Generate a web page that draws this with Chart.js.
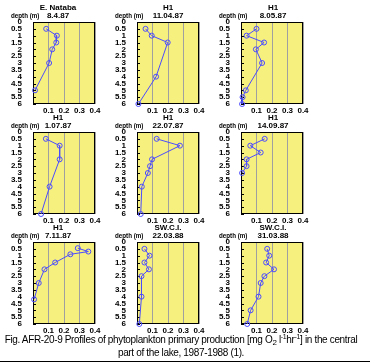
<!DOCTYPE html>
<html>
<head>
<meta charset="utf-8">
<script src="https://cdn.jsdelivr.net/npm/chart.js@4.4.0/dist/chart.umd.min.js"></script>
<style>
  body { margin: 0; background: #fff; width: 370px; height: 362px; position: relative; overflow: hidden; }
  .panel { position: absolute; }
  #caption {
    position: absolute; left: 0; top: 333px; width: 362px; text-align: center;
    font-family: "Liberation Sans", Arial, sans-serif; font-size: 10px; line-height: 13px; color: #000;
    letter-spacing: -0.35px;
  }
  #rule { position: absolute; left: 0; top: 361px; width: 370px; height: 1px; background: #000; }
</style>
</head>
<body>
<div id="grid"></div>
<div id="caption">Fig. AFR-20-9 Profiles of phytoplankton primary production [mg O<sub style="font-size:8px;vertical-align:-2px;line-height:0">2</sub> l<sup style="font-size:7px;vertical-align:4px;line-height:0">-1</sup>hr<sup style="font-size:7px;vertical-align:4px;line-height:0">-1</sup>] in the central<br>part of the lake, 1987-1988 (1).</div>
<div id="rule"></div>
<script>
// station / date of each panel (row by row)
const stations = ["E. Nataba", "H1", "H1", "H1", "H1", "H1", "H1", "SW.C.I.", "SW.C.I."];
const dates = ["8.4.87", "11.04.87", "8.05.87", "1.07.87", "22.07.87", "14.09.87", "7.11.87", "22.03.88", "31.03.88"];

// depth (m) and production (mg O2 l-1 hr-1) for each profile
const depth1 = [0.5, 1, 1.5, 2, 3, 5];
const prod1 = [0.085, 0.154, 0.15, 0.124, 0.104, 0.013];
const depth2 = [0.5, 1, 1.5, 4, 6];
const prod2 = [0.055, 0.095, 0.198, 0.123, 0.009];
const depth3 = [0.5, 1, 1.5, 2, 3, 5, 5.5, 6];
const prod3 = [0.1, 0.036, 0.149, 0.096, 0.136, 0.031, 0.01, 0.007];
const depth4 = [0.5, 1, 2, 4, 6];
const prod4 = [0.083, 0.172, 0.172, 0.107, 0.052];
const depth5 = [0.5, 1, 2, 2.5, 3, 4, 6];
const prod5 = [0.127, 0.277, 0.097, 0.084, 0.07, 0.031, 0.024];
const depth6 = [0.5, 1, 1.5, 2, 2.5, 3];
const prod6 = [0.153, 0.06, 0.127, 0.036, 0.036, 0.007];
const depth7 = [0.45, 0.7, 0.9, 1.5, 2, 3, 4.2];
const prod7 = [0.289, 0.357, 0.241, 0.143, 0.074, 0.037, 0.007];
const depth8 = [0.5, 1, 1.5, 2, 2.5, 4, 6];
const prod8 = [0.048, 0.081, 0.048, 0.077, 0.029, 0.029, 0.015];
const depth9 = [0.5, 1, 1.5, 2, 2.5, 3, 4, 5, 6];
const prod9 = [0.169, 0.182, 0.162, 0.213, 0.151, 0.127, 0.113, 0.062, 0.04];

// axis ticks
const depthTicks = [0, 0.5, 1, 1.5, 2, 2.5, 3, 3.5, 4, 4.5, 5, 5.5, 6];
const depthTickLabels = ["0", "0.5", "1", "1.5", "2", "2.5", "3", "3.5", "4", "4.5", "5", "5.5", "6"];
const prodTicks = [0, 0.1, 0.2, 0.3, 0.4];
const prodTickLabels = ["", "0.1", "0.2", "0.3", "0.4"];

const depths = [depth1, depth2, depth3, depth4, depth5, depth6, depth7, depth8, depth9];
const prods = [prod1, prod2, prod3, prod4, prod5, prod6, prod7, prod8, prod9];

const boldFont = { family: "Liberation Sans", size: 8, weight: "bold" };
const blue = "#4c4cff";
// horizontal shift of the panel titles per column
const titleShift = [-6, 0, 1];

const panelDecor = {
    id: "panelDecor",
    beforeDraw(chart) {
        const a = chart.chartArea, ctx = chart.ctx;
        ctx.save();
        ctx.fillStyle = "#f6f07e";
        ctx.fillRect(a.left, a.top, a.right - a.left, a.bottom - a.top);
        ctx.restore();
    },
    beforeDatasetsDraw(chart) {
        const a = chart.chartArea, ctx = chart.ctx;
        const y = chart.scales.y;
        const opts = chart.options.plugins.panelDecor;
        ctx.save();
        ctx.strokeStyle = "#000";
        ctx.lineWidth = 1;
        ctx.strokeRect(Math.round(a.left) + 0.5, Math.round(a.top) + 0.5, Math.round(a.right - a.left) - 1, Math.round(a.bottom - a.top) - 1);
        // small inner tick marks on the depth axis
        depthTicks.forEach(function(d) {
            const py = Math.round(y.getPixelForValue(d)) + 0.5;
            ctx.beginPath();
            ctx.moveTo(a.left, py);
            ctx.lineTo(a.left + 3, py);
            ctx.stroke();
        });
        // titles
        const cx = (a.left + a.right) / 2 + opts.shift;
        ctx.fillStyle = "#000";
        ctx.font = "bold 8px 'Liberation Sans'";
        ctx.textAlign = "center";
        ctx.textBaseline = "middle";
        ctx.fillText(opts.station, cx, 8);
        ctx.fillText(opts.date, cx, 16);
        // y axis caption, squeezed like the narrow original font
        ctx.translate(11, 16);
        ctx.scale(0.78, 1);
        ctx.textAlign = "left";
        ctx.fillText("depth (m)", 0, 0);
        ctx.restore();
    }
};

document.addEventListener("DOMContentLoaded", function() {
    const grid = document.getElementById("grid");

    for (let i = 0; i < 9; i++) {
        const col = i % 3, row = Math.floor(i / 3);
        const canvas = document.createElement("canvas");
        canvas.className = "panel";
        canvas.width = 104;
        canvas.height = 114;
        canvas.style.left = (col * 104) + "px";
        canvas.style.top = (row * 110) + "px";
        grid.appendChild(canvas);

        const points = depths[i].map(function(d, k) {
            return { x: prods[i][k], y: d };
        });

        new Chart(canvas.getContext("2d"), {
            type: "scatter",
            data: {
                datasets: [{
                    data: points,
                    showLine: true,
                    borderColor: blue,
                    borderWidth: 1,
                    pointRadius: 2.5,
                    pointBorderWidth: 1,
                    pointBorderColor: blue,
                    pointBackgroundColor: "rgba(0,0,0,0)",
                    clip: 4
                }]
            },
            options: {
                responsive: false,
                animation: false,
                layout: { padding: { top: 22, right: 9, left: 0, bottom: 0 } },
                plugins: {
                    legend: { display: false },
                    tooltip: { enabled: false },
                    panelDecor: { station: stations[i], date: dates[i], shift: titleShift[col] }
                },
                scales: {
                    x: {
                        type: "linear",
                        min: 0,
                        max: 0.4,
                        afterBuildTicks: function(s) { s.ticks = prodTicks.map(v => ({ value: v })); },
                        afterFit: function(s) { s.height = 10; },
                        grid: { color: "#a0a0a0", lineWidth: 1, drawTicks: false },
                        border: { display: false },
                        ticks: {
                            font: boldFont,
                            color: "#000",
                            padding: 2,
                            maxRotation: 0,
                            autoSkip: false,
                            callback: function(v, k) { return prodTickLabels[k]; }
                        }
                    },
                    y: {
                        type: "linear",
                        reverse: true,
                        min: 0,
                        max: 6,
                        afterBuildTicks: function(s) { s.ticks = depthTicks.map(v => ({ value: v })); },
                        afterFit: function(s) { s.width = 33; },
                        grid: { display: false },
                        border: { display: false },
                        ticks: {
                            font: boldFont,
                            color: "#000",
                            padding: 3,
                            autoSkip: false,
                            callback: function(v, k) { return depthTickLabels[k]; }
                        }
                    }
                }
            },
            plugins: [panelDecor]
        });
    }
});
</script>
</body>
</html>
